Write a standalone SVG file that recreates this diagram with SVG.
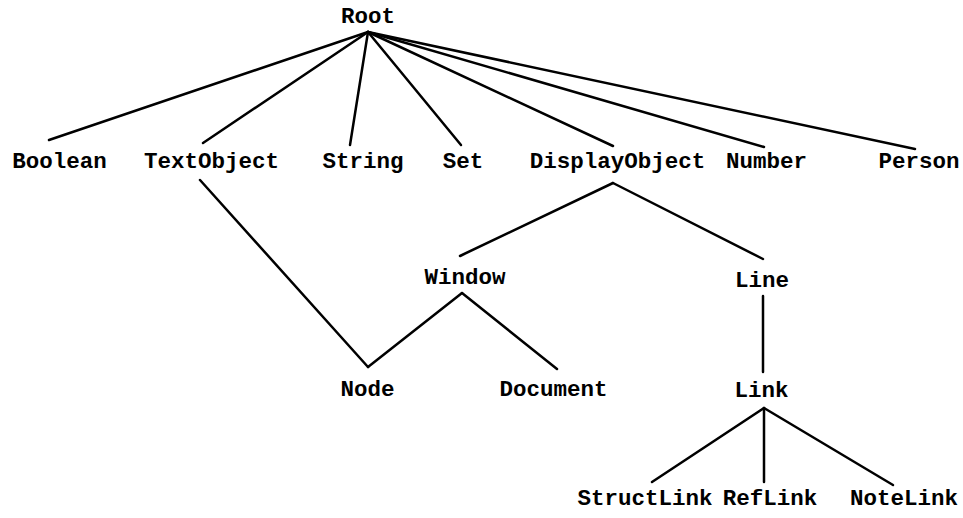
<svg xmlns="http://www.w3.org/2000/svg" width="963" height="518" viewBox="0 0 963 518">
<style>
text{font-family:"Liberation Mono","DejaVu Sans Mono",monospace;font-weight:bold;font-size:22.5px;fill:#000;text-anchor:middle}
.c line{stroke:#000;stroke-width:2.5;stroke-linecap:round}
</style>
<rect width="963" height="518" fill="#fff"/>
<g class="c" id="connectors">
<line x1="368" y1="32" x2="49" y2="140"/>
<line x1="368" y1="32" x2="203" y2="143"/>
<line x1="368" y1="32" x2="350" y2="145"/>
<line x1="368" y1="32" x2="461" y2="145"/>
<line x1="368" y1="32" x2="613" y2="146"/>
<line x1="368" y1="32" x2="764" y2="147"/>
<line x1="368" y1="32" x2="915" y2="149"/>
<line x1="200" y1="180" x2="368" y2="367"/>
<line x1="613" y1="183" x2="460" y2="256"/>
<line x1="613" y1="183" x2="763" y2="259"/>
<line x1="462" y1="293" x2="368" y2="367"/>
<line x1="462" y1="293" x2="557" y2="369"/>
<line x1="763" y1="296" x2="763" y2="372"/>
<line x1="764" y1="408" x2="652" y2="482"/>
<line x1="764" y1="408" x2="764" y2="482"/>
<line x1="764" y1="408" x2="893" y2="485"/>
</g>
<g id="root"><text x="368" y="23">Root</text></g>
<g id="boolean"><text x="59.5" y="168">Boolean</text></g>
<g id="textobject"><text x="211.5" y="168">TextObject</text></g>
<g id="string"><text x="363" y="168">String</text></g>
<g id="set"><text x="463" y="168">Set</text></g>
<g id="displayobject"><text x="617.5" y="168">DisplayObject</text></g>
<g id="number"><text x="766.5" y="168">Number</text></g>
<g id="person"><text x="919" y="168">Person</text></g>
<g id="window"><text x="465" y="284">Window</text></g>
<g id="line"><text x="762" y="287">Line</text></g>
<g id="node"><text x="367.5" y="396">Node</text></g>
<g id="document"><text x="553.5" y="396">Document</text></g>
<g id="link"><text x="761.5" y="397">Link</text></g>
<g id="structlink"><text x="645" y="505">StructLink</text></g>
<g id="reflink"><text x="770" y="505">RefLink</text></g>
<g id="notelink"><text x="904" y="505">NoteLink</text></g>
</svg>
